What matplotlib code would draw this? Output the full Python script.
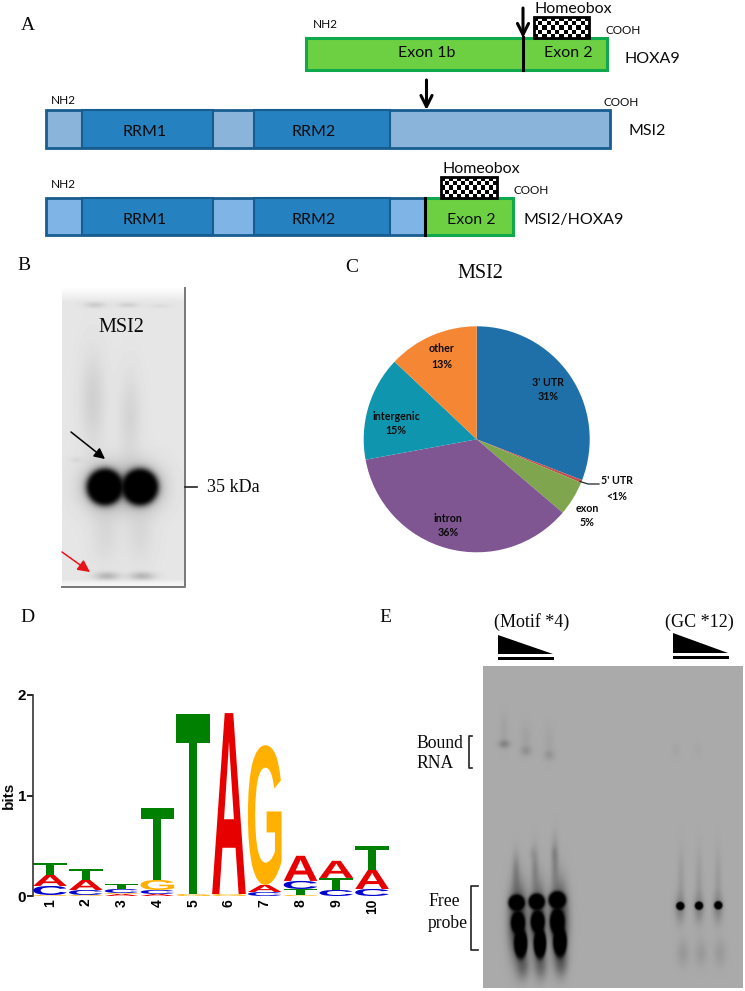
# -*- coding: utf-8 -*-
import numpy as np
import matplotlib
matplotlib.use('Agg')
import matplotlib.pyplot as plt
from matplotlib.patches import Rectangle, Polygon, PathPatch
from matplotlib.textpath import TextPath
from matplotlib.font_manager import FontProperties
from matplotlib.transforms import Affine2D

# pie (panel C)
pie_labels = ["3' UTR", "5' UTR", 'exon', 'intron', 'intergenic', 'other']
pie_values = [31, 0.4, 5, 36, 15, 13]
pie_texts = ['31%', '<1%', '5%', '36%', '15%', '13%']
pie_colors = ['#1f70a9', '#c0504d', '#7fa64e', '#7f5592', '#0f95ad', '#f58634']

# sequence logo (panel D), bits per letter, bottom to top
logo_pos = [1, 2, 3, 4, 5, 6, 7, 8, 9, 10]
logo_letters = ['GCAT', 'GCAT', 'AGCT', 'ACGT', 'GT', 'GA', 'CAG', 'GTCA', 'CTA', 'CAT']
logo_bits = [[.01, .09, .11, .12],
             [.01, .05, .10, .11],
             [.02, .01, .04, .05],
             [.02, .04, .10, .72],
             [.02, 1.79],
             [.02, 1.80],
             [.04, .07, 1.39],
             [.01, .06, .08, .25],
             [.06, .12, .17],
             [.07, .19, .24]]
logo_colors = {'A': '#e60000', 'C': '#0000cc', 'G': '#ffb000', 'T': '#008000'}

# gel B bands
b_x = [105, 140, 105, 140, 95, 128, 160, 107, 142, 93, 130, 76, 105, 140]
b_y = [487, 487, 487, 487, 305, 305, 306, 576, 576, 400, 417, 460, 535, 535]
b_sx = [9.3, 9.3, 22, 22, 10, 10, 10, 12, 12, 12, 11, 6, 14, 14]
b_sy = [9.3, 9.3, 22, 22, 3, 2.5, 2, 4, 4, 45, 42, 3, 28, 28]
b_amp = [40, 40, .35, .35, .12, .10, .05, .22, .22, .10, .08, .05, .06, .06]

# gel E bands
e_x = [516.7, 518, 520.7, 536.7, 537.7, 540, 557.3, 557.3, 560,
       680.3, 699, 718.3,
       504.3, 526, 549.3, 676, 698,
       523, 541, 561, 516, 535, 555, 683, 701, 720, 681, 699, 718, 504, 526, 549,
       518, 538, 559, 680, 699, 718, 532, 554]
e_y = [902.7, 922.7, 943.3, 901.7, 921.7, 943.3, 900, 921.7, 941.7,
       906, 905.7, 905.3,
       744, 750.7, 755, 750, 750,
       965, 965, 962, 872, 868, 862, 953, 953, 953, 880, 880, 880, 730, 738, 742,
       922, 922, 921, 908, 908, 908, 853, 853]
e_sx = [4.2, 3.6, 3.4, 4.2, 3.6, 3.2, 4.5, 3.8, 3.5,
        2.3, 2.3, 2.3,
        5.5, 5.5, 5.5, 4, 4,
        6, 6, 6, 3.5, 3.5, 3.5, 6, 6, 6, 3.5, 3.5, 3.5, 4, 5, 5,
        8, 7, 8, 5, 5, 5, 3, 3]
e_sy = [4.2, 6, 8, 4.2, 6, 8, 4.5, 7, 8,
        2.3, 2.3, 2.3,
        4, 5, 5, 7, 7,
        13, 13, 13, 18, 20, 22, 13, 13, 13, 28, 28, 28, 16, 14, 16,
        32, 32, 32, 14, 14, 14, 6, 6]
e_amp = [40, 40, 40, 40, 40, 40, 40, 40, 40,
         20, 20, 20,
         .24, .14, .11, .03, .025,
         .45, .40, .45, .22, .20, .24, .11, .10, .10, .09, .09, .09, .05, .05, .04,
         1.2, 1.0, 1.2, .25, .25, .25, .06, .08]


def gel(x0, x1, y0, y1, bg, xs, ys, sxs, sys, amps):
    gx, gy = np.meshgrid(np.arange(x0, x1) + .5, np.arange(y0, y1) + .5)
    total = np.zeros_like(gx)
    for x, y, sx, sy, a in zip(xs, ys, sxs, sys, amps):
        total += a * np.exp(-((gx - x) / sx) ** 2 - ((gy - y) / sy) ** 2)
    return bg * np.exp(-total)


SERIF = 'Liberation Serif'
SANS = 'Lato'

fig = plt.figure(figsize=(7.45, 9.91), dpi=100)
ax = fig.add_axes([0, 0, 1, 1])
ax.axis('off')


def label(x, y, s, size=11.5, family=SANS, ha='center', **kw):
    ax.text(x, y, s, fontsize=size, family=family, ha=ha, va='center', color='#0a0a0a', **kw)


def box(x0, x1, y0, y1, color, edge=None, lw=1.5, zorder=2):
    ax.add_patch(Rectangle((x0, y0), x1 - x0, y1 - y0, facecolor=color,
                           edgecolor=edge if edge else 'none', linewidth=lw, zorder=zorder))


def checker(x0, x1, y0, y1):
    nx, ny = int((x1 - x0) / 4), int((y1 - y0) / 4)
    pat = np.indices((ny, nx)).sum(axis=0) % 2
    ax.imshow(pat, extent=(x0, x1, y1, y0), cmap='gray', aspect='auto',
              interpolation='nearest', zorder=4)
    box(x0, x1, y0, y1, 'none', 'black', 2, 5)


def arrow(x0, y0, x1, y1, color='black', lw=2.2, scale=18, style='->', zorder=6):
    ax.annotate('', xy=(x1, y1), xytext=(x0, y0), zorder=zorder,
                arrowprops=dict(arrowstyle=style, color=color, lw=lw, mutation_scale=scale,
                                shrinkA=0, shrinkB=0))


BLUE = '#2681c0'
GREEN = '#6dd043'
GEDGE = '#10a84c'
BEDGE = '#175d8f'

# panel A
label(28, 26, 'A', 14, SERIF)
box(306, 607, 38, 70, GREEN, GEDGE, 2.2)
ax.plot([523, 523], [37, 70], color='black', lw=2.2, zorder=4)
arrow(523, 8, 523, 38, lw=2.2, scale=20)
checker(534, 589, 17, 38)
label(534, 9, 'Homeobox', 11.5, ha='left')
label(325, 25, 'NH2', 8.5)
label(623, 30, 'COOH', 8.5)
label(652, 59, 'HOXA9', 11.5)
label(427, 53, 'Exon 1b')
label(568, 53, 'Exon 2')

LIGHT1 = '#8ab4d9'
box(46, 610, 110, 148, LIGHT1, BEDGE, 2)
for x0, x1 in [(81.5, 212.5), (254, 390)]:
    box(x0, x1, 110, 148, BLUE, BEDGE, 1.5, 3)
label(145, 132, 'RRM1')
label(314, 132, 'RRM2')
arrow(426.5, 80, 426.5, 110, lw=2.2, scale=20)
label(63, 100, 'NH2', 8.5)
label(621, 103, 'COOH', 8.5)
label(647, 131, 'MSI2', 11.5)

LIGHT2 = '#7fb5e6'
box(46, 425, 198, 235, LIGHT2, BEDGE, 2)
for x0, x1 in [(81.5, 212.5), (254, 390)]:
    box(x0, x1, 198, 235, BLUE, BEDGE, 1.5, 3)
box(425, 513, 198, 235, GREEN, GEDGE, 2.2, 3)
ax.plot([425, 425], [198, 235], color='black', lw=2.2, zorder=4)
checker(441, 497, 177, 198)
label(442, 169, 'Homeobox', 11.5, ha='left')
label(145, 220, 'RRM1')
label(314, 220, 'RRM2')
label(471, 220, 'Exon 2')
label(63, 185, 'NH2', 8.5)
label(531, 191, 'COOH', 8.5)
label(574, 220, 'MSI2/HOXA9', 11.5)

# panel B
label(24, 265, 'B', 14, SERIF)
img = gel(62, 185, 288, 587, .90, b_x, b_y, b_sx, b_sy, b_amp)
fade = np.clip((np.arange(288, 587) + .5 - 288) / 14, .15, 1)[:, None]
fade = fade * np.clip((587 - (np.arange(288, 587) + .5)) / 8, .4, 1)[:, None]
img = 1 - (1 - img) * fade
ax.imshow(img, extent=(62, 185, 587, 288), cmap='gray', vmin=0, vmax=1, aspect='auto', zorder=1)
ax.plot([185, 185, 62], [288, 587, 587], color='#777777', lw=1.4, zorder=2)
ax.plot([185, 197], [487, 487], color='#222222', lw=1.2)
label(121, 327, 'MSI2', 14.5, SERIF)
label(207, 487, '35 kDa', 13, SERIF, ha='left')
arrow(71, 432, 105, 459, lw=1.1, scale=16, style='-|>')
arrow(62, 552, 90, 572, color='#e8141c', lw=1.1, scale=18, style='-|>')

# panel C
label(352, 267, 'C', 14, SERIF)
label(480, 274, 'MSI2', 14.5, SERIF)
R = 113
pie_ax = fig.add_axes([(476.7 - R) / 745, 1 - (439.3 + R) / 991, 2 * R / 745, 2 * R / 991])
pie_ax.pie(pie_values, colors=pie_colors, startangle=90, counterclock=False, radius=1)
pie_ax.set_xlim(-1, 1)
pie_ax.set_ylim(-1, 1)
pie_ax.set_zorder(3)
ax.set_zorder(4)
ax.patch.set_visible(False)
ax.plot([580, 588, 599], [481.5, 484, 484], color='#222222', lw=.9)
pie_xy = [(548, 383, 397), (617, 481, 496), (587, 508, 522),
          (448, 519, 533), (396, 417, 431), (442, 349, 364)]
for (x, y1, y2), name, val in zip(pie_xy, pie_labels, pie_texts):
    label(x, y1, name, 7.7, weight='bold')
    label(x, y2, val, 7.7, weight='bold')

# panel D
label(27, 618, 'D', 14, SERIF)
logo_ax = fig.add_axes([33 / 745, 1 - 896 / 991, (390 - 33) / 745, (896 - 695) / 991])
logo_ax.set_xlim(.525, 10.5)
logo_ax.set_ylim(0, 2)
fp = FontProperties(family='Liberation Sans', weight='bold')
for p, letters, bits in zip(logo_pos, logo_letters, logo_bits):
    base = 0
    for c, h in zip(letters, bits):
        tp = TextPath((0, 0), c, size=1, prop=fp)
        bb = tp.get_extents()
        tr = Affine2D().translate(-bb.x0, -bb.y0).scale(.94 / bb.width, h / bb.height) \
            .translate(p - .47, base)
        logo_ax.add_patch(PathPatch(tp, transform=tr + logo_ax.transData,
                                    facecolor=logo_colors[c], edgecolor='none'))
        base += h
for s in ['top', 'right', 'bottom']:
    logo_ax.spines[s].set_visible(False)
logo_ax.spines['left'].set_linewidth(1.2)
logo_ax.spines['left'].set_color('#333333')
logo_ax.set_yticks([0, 1, 2])
logo_ax.set_yticklabels(['0', '1', '2'], fontsize=11, fontweight='bold', family='Liberation Sans')
logo_ax.set_xticks(logo_pos)
logo_ax.set_xticklabels([str(p) for p in logo_pos], rotation=90, fontsize=10,
                        fontweight='bold', family='Liberation Sans')
logo_ax.tick_params(axis='x', length=0, pad=2)
logo_ax.tick_params(axis='y', length=4, width=1.2, pad=1)
logo_ax.patch.set_visible(False)
logo_ax.set_zorder(5)
label(9, 795, 'bits', 11, 'Liberation Sans', rotation=90, weight='bold')

# panel E
label(385, 618, 'E', 14, SERIF)
label(532, 622, '(Motif *4)', 13, SERIF)
label(699, 622, '(GC *12)', 13, SERIF)
img = gel(483, 743, 666, 988, .665, e_x, e_y, e_sx, e_sy, e_amp)
ax.imshow(img, extent=(483, 743, 988, 666), cmap='gray', vmin=0, vmax=1, aspect='auto', zorder=1)
ax.add_patch(Polygon([(498, 635), (498, 654), (553, 654)], facecolor='black', edgecolor='none'))
ax.add_patch(Polygon([(673, 633), (673, 653), (728, 653)], facecolor='black', edgecolor='none'))
box(498, 554, 657, 660, 'black')
box(673, 729, 656, 659, 'black')
label(416, 743, 'Bound', 12.7, SERIF, ha='left')
label(416, 764, 'RNA', 12.7, SERIF, ha='left')
label(428, 902, 'Free', 12.7, SERIF, ha='left')
label(428, 923, 'probe', 12.7, SERIF, ha='left')
ax.plot([472, 468.5, 468.5, 472], [736, 736, 768, 768], color='#222222', lw=1.2)
ax.plot([478, 471, 471, 478], [886, 886, 950, 950], color='#222222', lw=1.2)

ax.set_xlim(0, 745)
ax.set_ylim(991, 0)
fig.savefig('out.png', dpi=100)
